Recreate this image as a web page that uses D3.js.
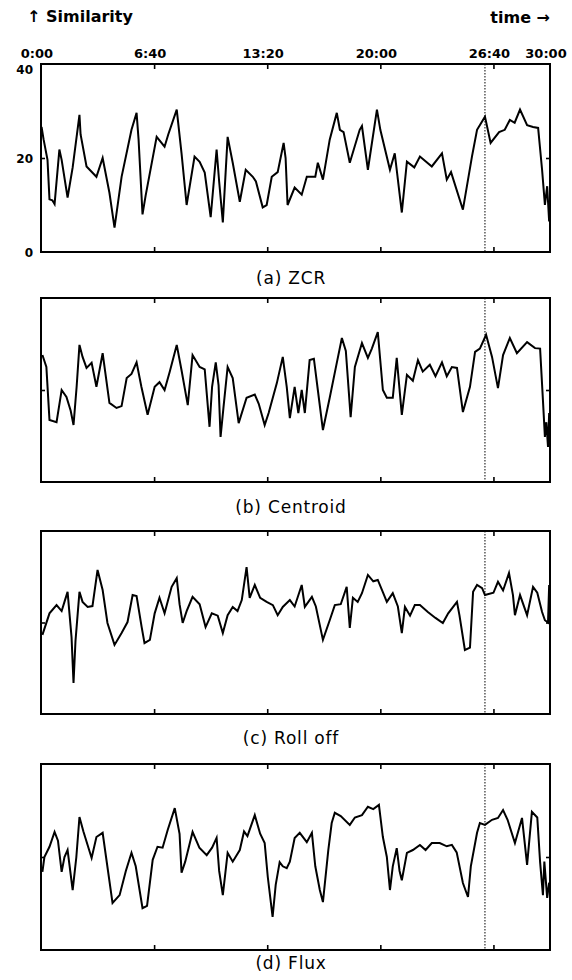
<!DOCTYPE html>
<html>
<head>
<meta charset="utf-8">
<script src="https://cdn.jsdelivr.net/npm/d3@7"></script>
<style>
  body { margin: 0; background: #fff; }
  svg { display: block; }
</style>
</head>
<body>
<div id="chart"></div>
<script>
// [time in seconds, similarity]
const zcr = [[2,26.6],[9,24],[23,19.6],[30,11.2],[40,11],[48,10.2],[65,21.8],[73,19.6],[94,11.6],[112,18],[136,29.2],[140,25],[161,18.2],[196,16],[218,20],[242,12.6],[260,5.2],[285,16],[320,26],[338,29.6],[345,24],[359,8],[370,12],[409,24.5],[437,22.4],[450,25],[480,30.3],[497,21],[515,10],[543,20.3],[561,19.2],[579,16.9],[600,7.4],[621,21.8],[630,15],[643,6.3],[660,24.5],[678,19],[703,10.7],[724,17.5],[749,16],[760,15],[784,9.5],[798,10],[816,16],[837,17],[858,23.2],[865,20],[872,10],[897,13.7],[922,12.2],[940,16],[970,16],[979,19],[997,15.4],[1021,23.9],[1046,29.6],[1057,26],[1070,25.5],[1092,19],[1127,26],[1135,26.8],[1156,17.5],[1188,30.3],[1200,26],[1234,17.5],[1251,21],[1276,8.4],[1294,19.2],[1320,18],[1340,20.3],[1382,18.2],[1418,21],[1435,15.4],[1450,17],[1492,9],[1524,20.3],[1542,26],[1570,28.8],[1590,23.2],[1620,25.5],[1640,26],[1658,28.1],[1675,27.5],[1694,30.3],[1719,27],[1740,26.6],[1758,26.4],[1772,17.5],[1782,10],[1790,14],[1797,6.5]];

const centroid = [[5,27.6],[19,25],[30,13.5],[55,13],[73,20],[90,18.5],[105,15.5],[115,12.4],[126,20.7],[136,29.8],[147,27.2],[161,24.8],[179,25.9],[196,20.7],[218,28],[242,17.2],[267,16.1],[285,16.5],[303,22.6],[320,23.5],[338,26],[355,20.7],[377,14.6],[402,20.7],[419,21.7],[437,20],[455,23.9],[480,29.8],[497,24.3],[519,16.7],[536,27.6],[561,25],[579,24.5],[596,12],[605,20.7],[618,26],[628,21],[635,9.8],[645,16],[660,25],[678,22.6],[699,12.8],[727,18.3],[756,19],[770,17],[791,12.4],[805,15],[834,21.5],[855,27.2],[869,20.7],[880,13.9],[897,20.7],[910,15],[922,20],[933,15],[950,26.5],[965,26.8],[979,20],[997,11.3],[1021,18.3],[1046,25.9],[1064,31.3],[1078,28.5],[1095,14.1],[1110,25],[1135,30.2],[1156,27],[1170,29],[1191,32.6],[1209,20],[1223,18.3],[1244,18.3],[1258,27],[1276,14.6],[1294,23.3],[1315,22],[1333,26.5],[1350,24],[1375,25.5],[1395,23],[1418,26],[1435,23],[1453,25],[1471,24.8],[1492,15.2],[1517,20.7],[1535,28.3],[1552,29],[1574,32],[1595,27.2],[1616,20.4],[1634,27.6],[1658,31.3],[1683,28],[1719,30.4],[1747,29.1],[1765,29],[1775,17.8],[1782,9.8],[1787,13],[1793,7.6],[1797,15]];

const rolloff = [[5,17.3],[30,22],[55,23.8],[73,22.5],[83,24.5],[94,26.7],[108,16.8],[115,6.8],[122,16],[136,26.7],[147,24.5],[165,23.4],[182,23.6],[200,31.5],[218,27.1],[235,19.9],[260,15.1],[285,17.7],[306,20.1],[324,26],[338,25.8],[356,19],[366,15.5],[385,16.2],[402,22],[419,25.4],[437,22],[462,27.8],[480,29.7],[490,24],[501,19.9],[515,22.5],[536,25.6],[561,24],[582,19],[604,22],[625,21.5],[643,17.7],[660,21.6],[678,23.4],[695,22.5],[710,24.9],[727,32.1],[738,25.4],[756,28.2],[775,25.4],[798,24.5],[820,23.8],[837,21.6],[855,23.4],[880,24.9],[897,23.5],[922,28.2],[933,23.4],[958,25.6],[972,23.5],[997,16.2],[1021,20.5],[1039,23.8],[1060,24],[1081,27.8],[1092,18.8],[1103,25.4],[1120,24.5],[1135,26.4],[1156,30.4],[1175,29],[1191,29.3],[1210,26.5],[1223,24.5],[1244,26.4],[1262,23.5],[1276,17.7],[1287,23.4],[1305,21.5],[1322,23.8],[1340,23.8],[1368,22.3],[1395,21],[1421,19.9],[1440,22],[1471,24.5],[1480,21.5],[1499,14],[1517,14.5],[1528,26.7],[1542,28.2],[1560,27.5],[1570,26],[1600,26.5],[1616,28.9],[1634,27],[1655,30.8],[1669,26],[1676,21.6],[1694,26],[1719,21.6],[1740,27.8],[1755,26.5],[1772,22.3],[1782,20.5],[1793,20],[1797,28.2]];

const flux = [[5,16.8],[12,20],[30,22.2],[48,25.4],[60,23.5],[73,16.8],[83,20],[94,21.5],[112,12.9],[125,20],[136,28.6],[150,25.5],[179,19.8],[196,24.3],[218,25.2],[230,20],[253,10.1],[278,11.8],[300,17],[320,20.9],[335,18],[359,9],[375,9.5],[395,19.4],[412,22.2],[430,22],[448,25.8],[473,30.5],[490,25],[497,16.6],[510,19],[536,25.4],[560,22],[586,20.4],[605,22],[621,24.1],[630,17],[643,11.8],[660,20.9],[678,19],[703,21.5],[718,25.5],[730,24.5],[756,29],[775,25],[791,23],[802,15.7],[819,7.1],[830,14],[844,18.9],[855,18],[869,17.6],[880,19],[897,24.1],[915,25.2],[940,23.2],[958,25.2],[970,18],[986,12.9],[997,10.3],[1016,21.5],[1028,27.3],[1039,29.5],[1060,28.8],[1092,26.9],[1110,28.5],[1135,29],[1156,30.8],[1175,30.3],[1195,31.2],[1209,24.3],[1223,20],[1234,12.9],[1244,18],[1258,21.9],[1268,17],[1276,15],[1294,20.9],[1315,21.5],[1340,22.6],[1360,21.5],[1382,23],[1410,23],[1435,22.3],[1453,22.6],[1470,21],[1492,14.4],[1510,11.4],[1520,18],[1542,25.2],[1552,27.3],[1570,26.9],[1595,28],[1616,28.4],[1634,30.1],[1650,28],[1676,23],[1690,26],[1701,28.4],[1719,18.3],[1736,29.7],[1755,28.5],[1765,18.9],[1775,11.8],[1780,19],[1790,11.2],[1797,14.5]];

const series = [zcr, centroid, rolloff, flux];
const panelTitles = ['(a) ZCR', '(b) Centroid', '(c) Roll off', '(d) Flux'];
const timeTicks = [0, 400, 800, 1200, 1600, 1800];
const timeLabels = ['0:00', '6:40', '13:20', '20:00', '26:40', '30:00'];
const simTicks = [0, 20, 40];
const markerTime = 1570;

const width = 572;
const height = 980;
const left = 41;
const right = 550;

// vertical placement of each panel
const panels = [
  { top: 64, bottom: 252, titleY: 284 },
  { top: 298, bottom: 482, titleY: 513 },
  { top: 531, bottom: 714, titleY: 744 },
  { top: 764, bottom: 950, titleY: 969 },
];

const svg = d3.select('#chart')
  .append('svg')
  .attr('width', width)
  .attr('height', height)
  .style('font-family', 'DejaVu Sans, sans-serif');

const x = d3.scaleLinear().domain([0, 1800]).range([left, right]);

svg.append('text')
  .attr('x', 27)
  .attr('y', 22)
  .attr('font-size', 16)
  .attr('font-weight', 'bold')
  .text('↑ Similarity');

svg.append('text')
  .attr('x', right)
  .attr('y', 23)
  .attr('text-anchor', 'end')
  .attr('font-size', 16)
  .attr('font-weight', 'bold')
  .text('time →');

svg.selectAll('.time-label')
  .data(timeTicks)
  .enter()
  .append('text')
  .attr('class', 'time-label')
  .attr('x', (d) => x(d) - 4)
  .attr('y', 58)
  .attr('text-anchor', 'middle')
  .attr('font-size', 13)
  .attr('font-weight', 'bold')
  .text((d, i) => timeLabels[i]);

panels.forEach((p, i) => {
  const y = d3.scaleLinear().domain([0, 40]).range([p.bottom, p.top]);
  const g = svg.append('g');

  // inner ticks along top and bottom
  const inner = timeTicks.slice(1, -1);
  g.append('g')
    .attr('transform', `translate(0,${p.top})`)
    .call(d3.axisBottom(x).tickValues(inner).tickSize(5).tickFormat(''))
    .call((a) => a.select('.domain').remove());
  g.append('g')
    .attr('transform', `translate(0,${p.bottom})`)
    .call(d3.axisTop(x).tickValues(inner).tickSize(5).tickFormat(''))
    .call((a) => a.select('.domain').remove());
  g.append('g')
    .attr('transform', `translate(${left},0)`)
    .call(d3.axisRight(y).tickValues([20]).tickSize(4).tickFormat(''))
    .call((a) => a.select('.domain').remove());
  g.append('g')
    .attr('transform', `translate(${right},0)`)
    .call(d3.axisLeft(y).tickValues([20]).tickSize(4).tickFormat(''))
    .call((a) => a.select('.domain').remove());
  g.selectAll('.tick line').attr('stroke', '#000').attr('stroke-width', 1.6);

  if (i === 0) {
    g.selectAll('.sim-label')
      .data(simTicks)
      .enter()
      .append('text')
      .attr('class', 'sim-label')
      .attr('x', 33)
      .attr('y', (d) => Math.max(y(d) + 5, p.top + 10))
      .attr('text-anchor', 'end')
      .attr('font-size', 12)
      .attr('font-weight', 'bold')
      .text((d) => d);
  }

  g.append('line')
    .attr('x1', x(markerTime))
    .attr('x2', x(markerTime))
    .attr('y1', p.top)
    .attr('y2', p.bottom)
    .attr('stroke', '#000')
    .attr('stroke-width', 1)
    .attr('stroke-dasharray', '1.5,1.5');

  const line = d3.line()
    .x((d) => x(d[0]))
    .y((d) => y(d[1]));

  g.append('path')
    .datum(series[i])
    .attr('fill', 'none')
    .attr('stroke', '#000')
    .attr('stroke-width', 2)
    .attr('stroke-linejoin', 'miter')
    .attr('d', line);

  g.append('rect')
    .attr('x', left)
    .attr('y', p.top)
    .attr('width', right - left)
    .attr('height', p.bottom - p.top)
    .attr('fill', 'none')
    .attr('stroke', '#000')
    .attr('stroke-width', 2);

  g.append('text')
    .attr('x', 291)
    .attr('y', p.titleY)
    .attr('text-anchor', 'middle')
    .attr('font-size', 17)
    .attr('letter-spacing', 0.8)
    .text(panelTitles[i]);
});
</script>
</body>
</html>
